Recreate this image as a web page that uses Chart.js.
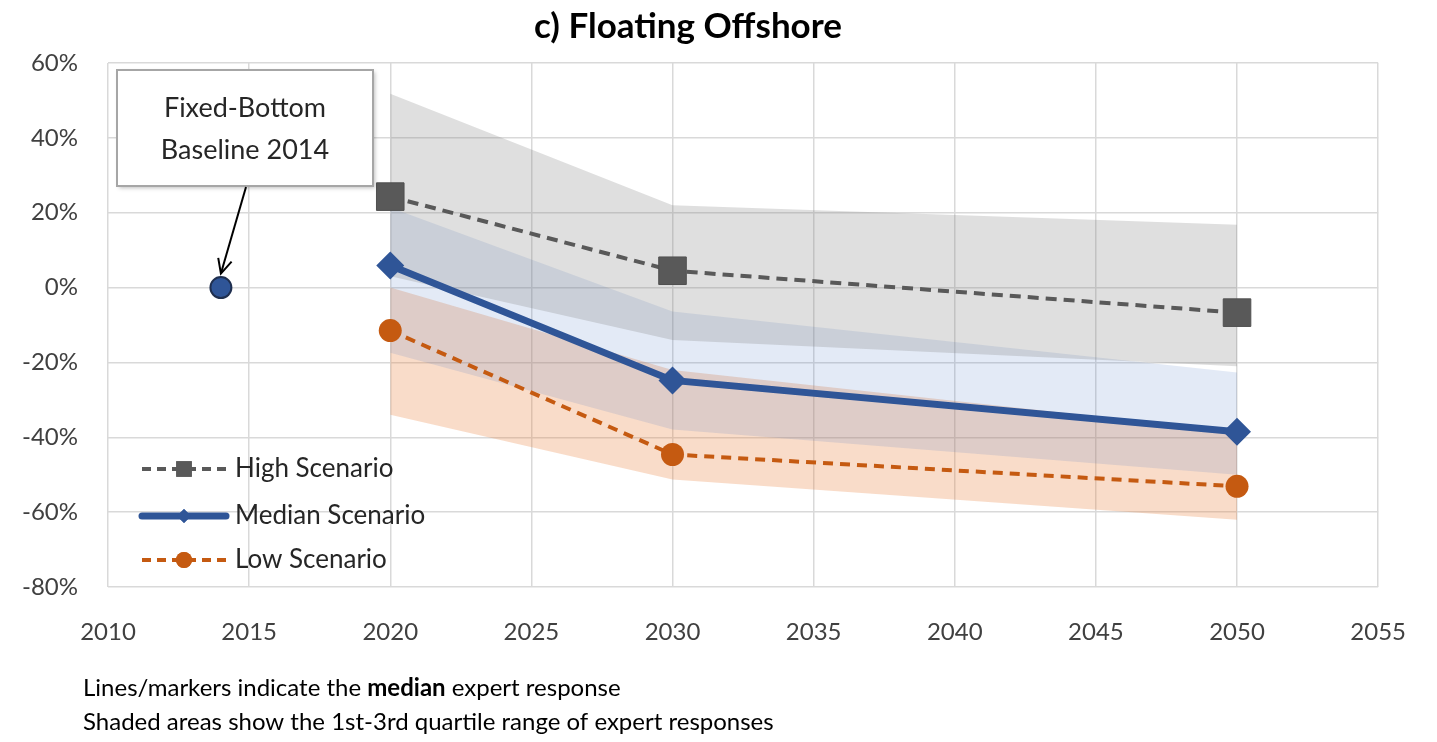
<!DOCTYPE html>
<html>
<head>
<meta charset="utf-8">
<script src="https://cdn.jsdelivr.net/npm/chart.js@4.4.0/dist/chart.umd.min.js"></script>
<style>
  html, body { margin: 0; padding: 0; background: #fff; }
  #wrap { width: 1437px; height: 742px; position: relative; }
</style>
</head>
<body>
<div id="wrap"><canvas id="floatingChart" width="1437" height="742"></canvas></div>
<script>
// Floating Offshore - median expert response with quartile bands
const years = [2020, 2030, 2050];
const highValues = [24.3, 4.5, -6.7];
const medianValues = [5.9, -24.8, -38.5];
const lowValues = [-11.5, -44.6, -53.1];

// 1st-3rd quartile ranges
const highTop = [51.8, 22.0, 16.8];
const highBottom = [3.0, -14.0, -21.0];
const medianTop = [21.4, -6.4, -22.7];
const medianBottom = [-17.4, -37.9, -50.0];
const lowTop = [0.0, -22.0, -38.5];
const lowBottom = [-34.0, -51.3, -62.0];

const baseline = [{ x: 2014, y: 0 }];
const yTicks = [-80, -60, -40, -20, 0, 20, 40, 60];
const xTicks = [2010, 2015, 2020, 2025, 2030, 2035, 2040, 2045, 2050, 2055];

const FONT = "Lato, 'Open Sans', sans-serif";
const pts = (vals) => vals.map((v, i) => ({ x: years[i], y: v }));

function band(top, bottom, color, lowerIndex) {
  return [
    {
      label: "top",
      data: pts(top),
      borderWidth: 0,
      pointRadius: 0,
      backgroundColor: color,
      fill: lowerIndex,
      order: 10,
    },
    {
      label: "bottom",
      data: pts(bottom),
      borderWidth: 0,
      pointRadius: 0,
      fill: false,
      order: 10,
    },
  ];
}

const datasets = [
  ...band(highTop, highBottom, "rgba(128,128,128,0.25)", 1),
  ...band(medianTop, medianBottom, "rgba(68,114,196,0.15)", 3),
  ...band(lowTop, lowBottom, "rgba(232,128,60,0.28)", 5),
  {
    label: "High Scenario",
    data: pts(highValues),
    borderColor: "#595959",
    backgroundColor: "#595959",
    borderWidth: 4,
    borderDash: [11, 7],
    pointStyle: "rect",
    pointRadius: 19.5,
    pointBorderColor: "#505050",
    pointBorderWidth: 1,
    fill: false,
    order: 1,
  },
  {
    label: "Median Scenario",
    data: pts(medianValues),
    borderColor: "#2F5597",
    backgroundColor: "#2F5597",
    borderWidth: 7,
    pointStyle: "rectRot",
    pointRadius: 14,
    pointBorderWidth: 0,
    fill: false,
    order: 1,
  },
  {
    label: "Low Scenario",
    data: pts(lowValues),
    borderColor: "#C55A11",
    backgroundColor: "#C55A11",
    borderWidth: 4,
    borderDash: [10, 7],
    pointStyle: "circle",
    pointRadius: 11.5,
    pointBorderWidth: 0,
    fill: false,
    order: 1,
  },
  {
    label: "Baseline",
    data: baseline,
    showLine: false,
    backgroundColor: "#2F5597",
    pointBorderColor: "#1f2f4f",
    pointBorderWidth: 2,
    pointRadius: 10.5,
    order: 0,
  },
];

// title, callout, inline legend and notes
const decorations = {
  id: "decorations",
  afterDatasetsDraw(chart) {
    const ctx = chart.ctx;
    const xs = chart.scales.x;
    const ys = chart.scales.y;
    ctx.save();

    // title
    ctx.fillStyle = "#000";
    ctx.font = "bold 35px " + FONT;
    ctx.textAlign = "center";
    ctx.textBaseline = "middle";
    ctx.fillText("c) Floating Offshore", 688, 27);

    // callout box
    ctx.shadowColor = "rgba(0,0,0,0.25)";
    ctx.shadowBlur = 4;
    ctx.shadowOffsetX = 2;
    ctx.shadowOffsetY = 2;
    ctx.fillStyle = "#fff";
    ctx.fillRect(117, 70, 256, 116);
    ctx.shadowColor = "transparent";
    ctx.strokeStyle = "#a6a6a6";
    ctx.lineWidth = 2;
    ctx.strokeRect(117, 70, 256, 116);
    ctx.fillStyle = "#262626";
    ctx.font = "27px " + FONT;
    ctx.fillText("Fixed-Bottom", 245, 108);
    ctx.fillText("Baseline 2014", 245, 150);

    // arrow to baseline point
    const tx = xs.getPixelForValue(baseline[0].x);
    const ty = ys.getPixelForValue(baseline[0].y) - 14;
    const sx = 246, sy = 187;
    ctx.strokeStyle = "#000";
    ctx.lineWidth = 2;
    ctx.beginPath();
    ctx.moveTo(sx, sy);
    ctx.lineTo(tx, ty);
    ctx.stroke();
    const ang = Math.atan2(ty - sy, tx - sx);
    ctx.beginPath();
    ctx.moveTo(tx - 16 * Math.cos(ang - 0.45), ty - 16 * Math.sin(ang - 0.45));
    ctx.lineTo(tx, ty);
    ctx.lineTo(tx - 16 * Math.cos(ang + 0.45), ty - 16 * Math.sin(ang + 0.45));
    ctx.stroke();

    // legend inside plot
    const rows = [
      { ds: chart.data.datasets[6], y: 469, marker: "rect", r: 11 },
      { ds: chart.data.datasets[7], y: 516, marker: "rectRot", r: 7 },
      { ds: chart.data.datasets[8], y: 560, marker: "circle", r: 8 },
    ];
    rows.forEach((row) => {
      ctx.strokeStyle = row.ds.borderColor;
      ctx.lineWidth = row.ds.borderWidth;
      ctx.lineCap = row.ds.borderDash ? "butt" : "round";
      ctx.setLineDash(row.ds.borderDash ? [9, 6] : []);
      ctx.beginPath();
      ctx.moveTo(142, row.y);
      ctx.lineTo(226, row.y);
      ctx.stroke();
      ctx.setLineDash([]);
      ctx.fillStyle = row.ds.backgroundColor;
      Chart.helpers.drawPoint(ctx, { pointStyle: row.marker, radius: row.r, borderWidth: 0 }, 184, row.y);
      ctx.fill();
      ctx.fillStyle = "#262626";
      ctx.font = "26px " + FONT;
      ctx.textAlign = "left";
      ctx.fillText(row.ds.label, 235, row.y);
    });

    // notes below chart
    ctx.fillStyle = "#000";
    ctx.textAlign = "left";
    let x = 83;
    const parts = [["Lines/markers indicate the ", ""], ["median", "bold "], [" expert response", ""]];
    parts.forEach(([t, w]) => {
      ctx.font = w + "24px " + FONT;
      ctx.fillText(t, x, 688);
      x += ctx.measureText(t).width;
    });
    ctx.font = "24px " + FONT;
    ctx.fillText("Shaded areas show the 1st-3rd quartile range of expert responses", 83, 722);
    ctx.restore();
  },
};

const ctx = document.getElementById("floatingChart").getContext("2d");
new Chart(ctx, {
  type: "line",
  data: { datasets },
  plugins: [decorations],
  options: {
    responsive: false,
    animation: false,
    layout: { padding: { top: 63, right: 55, bottom: 85, left: 0 } },
    scales: {
      x: {
        type: "linear",
        min: 2010,
        max: 2055,
        afterBuildTicks: (scale) => {
          scale.ticks = xTicks.map((v) => ({ value: v }));
        },
        afterFit: (scale) => {
          scale.height = 70;
        },
        grid: { color: "#d9d9d9", lineWidth: 1.5, drawTicks: false },
        border: { display: false },
        ticks: {
          color: "#404040",
          font: { family: FONT, size: 24 },
          padding: 31,
          callback: (v) => String(v),
        },
      },
      y: {
        min: -80,
        max: 60,
        afterBuildTicks: (scale) => {
          scale.ticks = yTicks.map((v) => ({ value: v }));
        },
        afterFit: (scale) => {
          scale.width = 108;
        },
        grid: { color: "#d9d9d9", lineWidth: 1.5, drawTicks: false },
        border: { display: false },
        ticks: {
          color: "#404040",
          font: { family: FONT, size: 24 },
          padding: 30,
          callback: (v) => v + "%",
        },
      },
    },
    plugins: {
      legend: { display: false },
      title: { display: false },
      tooltip: { enabled: false },
    },
  },
});
</script>
</body>
</html>
